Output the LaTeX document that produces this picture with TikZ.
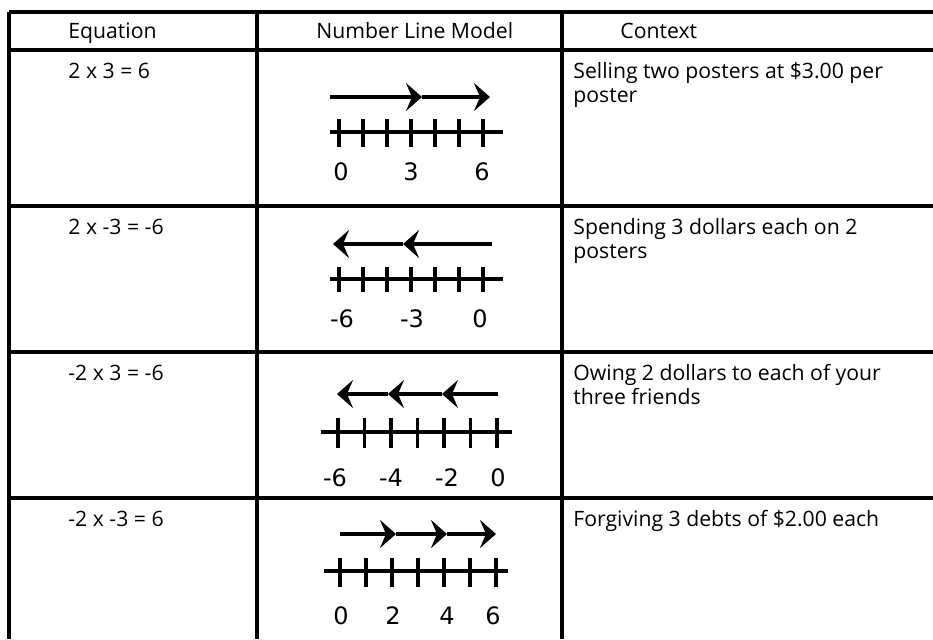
\documentclass[tikz,border=0pt]{standalone}
\usepackage{fontspec}
\setmainfont{Open Sans}
\newfontfamily\labfont{DejaVu Sans}
\usetikzlibrary{arrows.meta}
\begin{document}
\begin{tikzpicture}[x=0.5pt,y=-0.5pt,
  grid/.style={line width=1.7pt},
  txt/.style={anchor=base west, inner sep=0pt, font=\fontsize{10.6}{12}\selectfont},
  lab/.style={anchor=base, inner sep=0pt, font=\labfont\fontsize{12}{14}\selectfont},
  axisline/.style={line width=1.8pt},
  tickmark/.style={line width=1.8pt},
  arr/.style={line width=1.8pt, -{Stealth[length=8pt,width=14pt,inset=3pt]}}]
\useasboundingbox (0,0) rectangle (933,639);
% table grid
\foreach \yy in {12,50,206,352,498} \draw[grid] (9,\yy) -- (933,\yy);
\foreach \xx in {9,257,562} \draw[grid] (\xx,12) -- (\xx,639);
% header
\node[txt] (h1) at (68,38) {Equation};
\node[txt] (h2) at (316,38) {Number Line Model};
\node[txt] (h3) at (620,38) {Context};
% equations
\node[txt] (e1) at (68,78) {2 x 3 = 6};
\node[txt] (e2) at (68,234) {2 x -3 = -6};
\node[txt] (e3) at (68,380) {-2 x 3 = -6};
\node[txt] (e4) at (68,526) {-2 x -3 = 6};
% contexts
\node[txt] (c1a) at (573,78) {Selling two posters at \$3.00 per};
\node[txt] (c1b) at (573,102) {poster};
\node[txt] (c2a) at (573,234) {Spending 3 dollars each on 2};
\node[txt] (c2b) at (573,258) {posters};
\node[txt] (c3a) at (573,380) {Owing 2 dollars to each of your};
\node[txt] (c3b) at (573,404) {three friends};
\node[txt] (c4a) at (573,526) {Forgiving 3 debts of \$2.00 each};
% ---- row 1
\draw[arr] (330,97) -- (422,97);
\draw[arr] (422,97) -- (490,97);
\draw[axisline] (330,132) -- (503,132);
\foreach \i in {0,...,6} \draw[tickmark] (339+24*\i,119) -- (339+24*\i,147);
\node[lab] (l1a) at (341,180) {0};
\node[lab] (l1b) at (411,180) {3};
\node[lab] (l1c) at (482,180) {6};
% ---- row 2
\draw[arr] (492,244) -- (403,244);
\draw[arr] (403,244) -- (333,244);
\draw[axisline] (330,279) -- (503,279);
\foreach \i in {0,...,6} \draw[tickmark] (339+24*\i,267) -- (339+24*\i,292);
\node[lab] (l2a) at (342,327) {-6};
\node[lab] (l2b) at (412,327) {-3};
\node[lab] (l2c) at (480,327) {0};
% ---- row 3
\draw[arr] (498,394) -- (442,394);
\draw[arr] (442,394) -- (388,394);
\draw[arr] (388,394) -- (337,394);
\draw[axisline] (321,432) -- (512,432);
\foreach \i in {0,...,6} \draw[tickmark] (338+26.5*\i,418) -- (338+26.5*\i,448);
\node[lab] (l3a) at (335,486) {-6};
\node[lab] (l3b) at (391,486) {-4};
\node[lab] (l3c) at (447,486) {-2};
\node[lab] (l3d) at (498,486) {0};
% ---- row 4
\draw[arr] (340,534) -- (396,534);
\draw[arr] (396,534) -- (447,534);
\draw[arr] (447,534) -- (496,534);
\draw[axisline] (324,571) -- (508,571);
\foreach \i in {0,...,6} \draw[tickmark] (340+26*\i,558) -- (340+26*\i,587);
\node[lab] (l4a) at (341,624) {0};
\node[lab] (l4b) at (393,624) {2};
\node[lab] (l4c) at (447,624) {4};
\node[lab] (l4d) at (493,624) {6};
\end{tikzpicture}
\end{document}
